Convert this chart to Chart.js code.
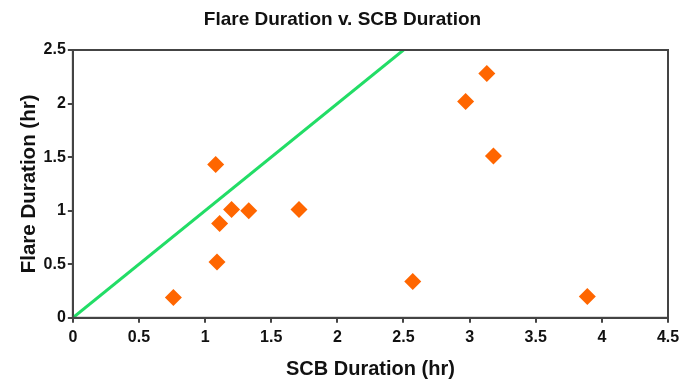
<!DOCTYPE html>
<html>
<head>
<meta charset="utf-8">
<script src="https://cdn.jsdelivr.net/npm/chart.js@4"></script>
<style>
  html, body { margin: 0; padding: 0; background: #fff; }
  #wrap { width: 691px; height: 381px; }
</style>
</head>
<body>
<div id="wrap"><canvas id="myChart" width="691" height="381"></canvas></div>
<script>
// data
const scbDuration   = [0.76, 1.09, 1.11, 1.20, 1.33, 1.71, 1.08, 2.57, 3.89, 2.97, 3.13, 3.18];
const flareDuration = [0.19, 0.52, 0.88, 1.01, 1.00, 1.01, 1.43, 0.34, 0.20, 2.02, 2.28, 1.51];
// equal-duration reference line
const lineX = [0, 2.5];
const lineY = [0, 2.5];

const axisColor = '#444';
const fontFamily = '"Liberation Sans", Arial, Helvetica, sans-serif';

let points = scbDuration.map((x, i) => ({ x: x, y: flareDuration[i] }));
let linePts = lineX.map((x, i) => ({ x: x, y: lineY[i] }));

// draw the box round the plot area
const frame = {
  id: 'frame',
  afterDraw(chart) {
    const a = chart.chartArea;
    const c = chart.ctx;
    c.save();
    c.strokeStyle = axisColor;
    c.lineWidth = 2;
    c.strokeRect(a.left, a.top, a.right - a.left, a.bottom - a.top);
    c.restore();
  }
};

// 1 not 1.0
function plainTick(value) {
  return String(Math.round(value * 10) / 10);
}

const ctx = document.getElementById('myChart').getContext('2d');
let myChart = new Chart(ctx, {
  type: 'scatter',
  data: {
    datasets: [
      {
        type: 'line',
        data: linePts,
        borderColor: '#22dd66',
        borderWidth: 3,
        pointRadius: 0,
        fill: false,
        order: 2
      },
      {
        data: points,
        pointStyle: 'rectRot',
        pointRadius: 8.5,
        backgroundColor: '#ff6600',
        borderColor: '#ff6600',
        borderWidth: 0,
        order: 1
      }
    ]
  },
  options: {
    responsive: false,
    animation: false,
    layout: { padding: { left: 17, right: 23, top: 0, bottom: 0 } },
    plugins: {
      legend: { display: false },
      tooltip: { enabled: false },
      title: {
        display: true,
        text: 'Flare Duration v. SCB Duration',
        color: '#111',
        font: { family: fontFamily, size: 19, weight: 'bold' },
        padding: { top: 8.6, bottom: 18.6 }
      }
    },
    scales: {
      x: {
        type: 'linear',
        min: 0,
        max: 4.5,
        ticks: {
          stepSize: 0.5,
          color: '#111',
          padding: 5,
          maxRotation: 0,
          callback: plainTick,
          font: { family: fontFamily, size: 16, weight: 'bold' }
        },
        grid: { drawOnChartArea: false, drawTicks: true, tickLength: 5, tickColor: axisColor, lineWidth: 2 },
        border: { display: true, color: axisColor, width: 2 },
        title: {
          display: true,
          text: 'SCB Duration (hr)',
          color: '#111',
          font: { family: fontFamily, size: 20, weight: 'bold' },
          padding: { top: 5, bottom: 0 }
        }
      },
      y: {
        type: 'linear',
        min: 0,
        max: 2.5,
        ticks: {
          stepSize: 0.5,
          color: '#111',
          padding: 2,
          callback: plainTick,
          font: { family: fontFamily, size: 16, weight: 'bold' }
        },
        grid: { drawOnChartArea: false, drawTicks: true, tickLength: 5, tickColor: axisColor, lineWidth: 2 },
        border: { display: true, color: axisColor, width: 2 },
        title: {
          display: true,
          text: 'Flare Duration (hr)',
          color: '#111',
          font: { family: fontFamily, size: 20.5, weight: 'bold' },
          padding: { top: 0, bottom: 0 }
        }
      }
    }
  },
  plugins: [frame]
});
</script>
</body>
</html>
